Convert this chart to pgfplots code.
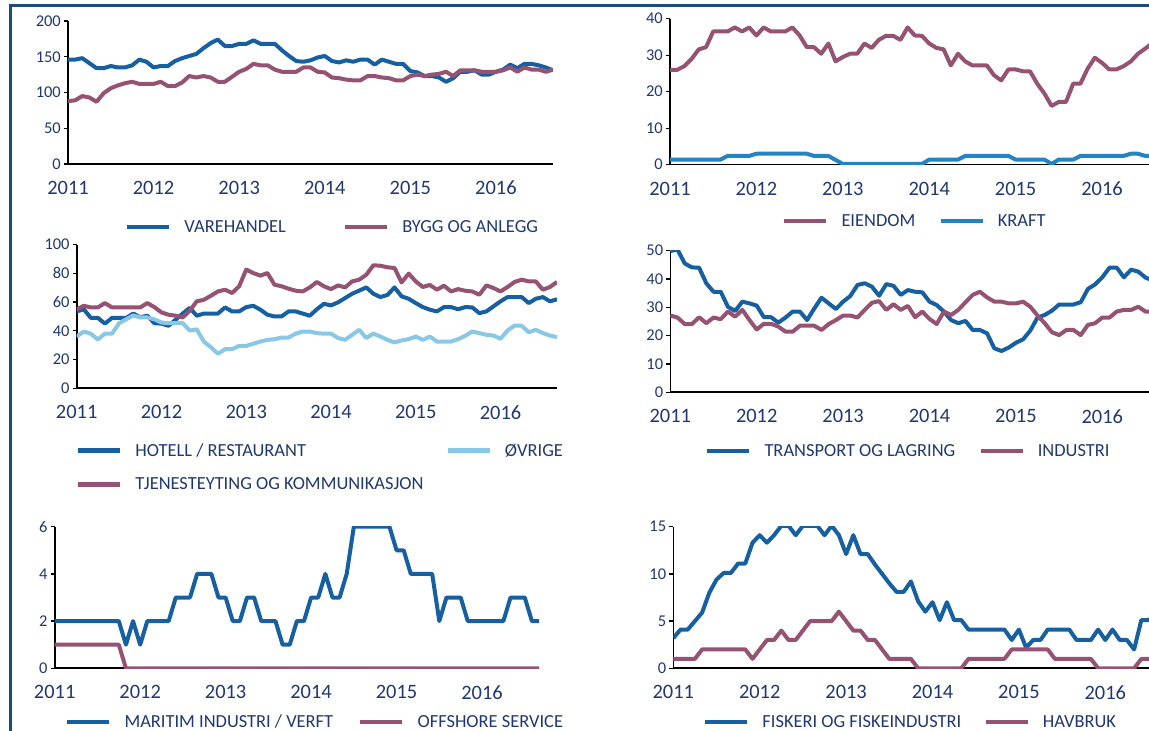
\documentclass[border=0pt]{standalone}
\usepackage{pgfplots}
\pgfplotsset{compat=1.18}
\usepackage{pgfplotstable}
\usepackage{fontspec}
\setmainfont{Carlito}
\definecolor{navy}{RGB}{31,56,116}
\definecolor{cblue}{RGB}{22,96,162}
\definecolor{cmauve}{RGB}{150,82,114}
\definecolor{clight}{RGB}{137,199,230}
\definecolor{ckraft}{RGB}{36,132,195}
\definecolor{frame}{RGB}{28,75,125}

\pgfplotstableread{
m vare bygg
0 146 88
1 146 89
2 148 95
3 141 93
4 134 87
5 134 99
6 137 106
7 135 110
8 135 113
9 138 115
10 146 112
11 143 112
12 135 112
13 137 115
14 137 109
15 144 109
16 148 114
17 151 123
18 154 121
19 162 123
20 169 121
21 174 115
22 165 115
23 165 122
24 168 129
25 168 133
26 173 140
27 168 138
28 168 138
29 168 132
30 159 129
31 151 129
32 144 129
33 143 135
34 145 135
35 149 129
36 151 128
37 144 121
38 142 120
39 145 118
40 143 117
41 146 117
42 146 123
43 139 123
44 146 121
45 143 120
46 140 117
47 140 117
48 130 123
49 128 125
50 123 123
51 123 125
52 121 126
53 115 129
54 120 123
55 129 131
56 129 131
57 131 131
58 125 129
59 125 129
60 129 129
61 132 131
62 139 135
63 134 129
64 140 135
65 140 132
66 138 132
67 135 129
68 131 132
}\tabA

\pgfplotstableread{
m eiendom kraft
0 26.0 1.4
1 26.0 1.4
2 27.0 1.4
3 29.0 1.4
4 31.6 1.4
5 32.2 1.4
6 36.5 1.4
7 36.5 1.4
8 36.5 2.4
9 37.6 2.4
10 36.5 2.4
11 37.6 2.4
12 35.4 3.0
13 37.6 3.0
14 36.5 3.0
15 36.5 3.0
16 36.5 3.0
17 37.6 3.0
18 35.4 3.0
19 32.2 3.0
20 32.2 2.4
21 30.4 2.4
22 33.2 2.4
23 28.3 1.3
24 29.5 0.2
25 30.4 0.2
26 30.4 0.2
27 33.2 0.2
28 32.0 0.2
29 34.2 0.2
30 35.3 0.2
31 35.3 0.2
32 34.2 0.2
33 37.6 0.2
34 35.4 0.2
35 35.3 0.2
36 33.2 1.4
37 32.0 1.4
38 31.6 1.4
39 27.2 1.4
40 30.4 1.4
41 28.3 2.4
42 27.2 2.4
43 27.2 2.4
44 27.2 2.4
45 24.5 2.4
46 23.1 2.4
47 26.1 2.4
48 26.1 1.4
49 25.6 1.4
50 25.6 1.4
51 22.2 1.4
52 19.5 1.4
53 16.1 0.2
54 17.2 1.4
55 17.2 1.4
56 22.2 1.4
57 22.2 2.4
58 26.3 2.4
59 29.3 2.4
60 27.9 2.4
61 26.1 2.4
62 26.1 2.4
63 27.0 2.4
64 28.3 3.0
65 30.4 3.0
66 31.8 2.4
67 33.3 2.4
68 34.0 2.4
}\tabB

\pgfplotstableread{
m hotell ovrige tjen
0 53.5 36 55
1 55 39.5 57.4
2 49 38 56.3
3 49 34 56.3
4 45 38 59.3
5 49 38 56.3
6 49 45.3 56.3
7 49 48 56.3
8 52 50.7 56.3
9 49.5 49.3 56.3
10 50.5 49.3 59.3
11 45.3 48 56.5
12 45 45.8 52.8
13 43.5 45.3 51.2
14 47.7 45.3 50.5
15 52 45.3 49.3
16 56 40.2 54
17 50.5 41 60.5
18 52 32.5 61.6
19 52 28.6 64.4
20 52 24 67.4
21 56.3 27.2 68.6
22 53.5 27.2 66.3
23 53.5 29.5 71
24 56.5 29.5 82.6
25 57.4 31 80.2
26 54.7 32.5 78.4
27 51.2 33.7 80.2
28 50 34.2 72.1
29 50 35.3 71
30 53.5 35.3 69.3
31 53.5 38 67.9
32 52 39.5 67.4
33 50.5 39.5 70.2
34 55 38.4 74
35 58.8 38 71
36 57.7 38 69
37 59.8 35 71.6
38 62.8 33.7 70.2
39 65.8 37.2 74.4
40 68 40.7 75.6
41 70.2 35 79
42 65.8 38 85.6
43 63.5 36 85.3
44 65 33.7 84.2
45 70.2 31.9 83.7
46 64 33.3 73.7
47 62.3 34.2 79.8
48 59.3 36 74.4
49 56.5 33.7 70.5
50 54.7 36 71.9
51 53.5 32.5 68.6
52 56.5 32.5 71.4
53 56.5 32.5 67.4
54 55 34.2 69
55 56.5 36.5 67.9
56 56.3 39.5 67.4
57 52.3 38.4 65.1
58 53.5 37.2 71.6
59 57 36.7 69.8
60 60.5 34.4 67.4
61 63.5 40.2 70.5
62 63.5 43.7 74
63 63.5 43.5 75.6
64 59.3 39 74.4
65 62.3 40.7 74.4
66 63.5 38.4 68.6
67 60.5 36.7 70.5
68 62 35.6 74
}\tabC

\pgfplotstableread{
m transport industri
0 49.9 27.1
1 50.4 26.4
2 45.5 24.1
3 44.1 24.1
4 44 26.5
5 38.5 24.4
6 35.5 26.4
7 35.5 25.8
8 30.2 28.5
9 28.7 26.7
10 32 29.1
11 31.4 25.5
12 30.6 22.2
13 26.5 24.2
14 26.5 24.2
15 24.6 23.2
16 26.4 21.4
17 28.5 21.4
18 28.5 23.5
19 25.5 23.5
20 29.6 23.5
21 33.4 22
22 31.4 24.1
23 29.4 25.5
24 32 27.1
25 34 27.1
26 37.9 26.4
27 38.5 29.1
28 37.3 31.6
29 34.1 32.2
30 38.2 29.1
31 37.6 31.1
32 34.4 29.1
33 36.1 30.5
34 35.5 26.5
35 35.3 28.5
36 32 25.9
37 30.8 24.1
38 28.5 28.5
39 25.5 27.3
40 24.4 29.1
41 25.2 31.8
42 22 34.4
43 22 35.5
44 20.8 33.5
45 15.5 32
46 14.6 32
47 15.8 31.4
48 17.5 31.4
49 18.7 32
50 21.8 30.2
51 26.4 27.1
52 27.3 24.4
53 28.8 21.2
54 31 20.2
55 31 22
56 31 22
57 31.8 20.2
58 36.5 23.8
59 38.1 24.4
60 40.6 26.4
61 44 26.4
62 44 28.5
63 40.6 29.1
64 43.3 29.1
65 42.6 30.2
66 40.5 28.5
67 39.5 28.5
68 39 28.5
}\tabD

\pgfplotstableread{
m maritim offshore
0 2 1
1 2 1
2 2 1
3 2 1
4 2 1
5 2 1
6 2 1
7 2 1
8 2 1
9 2 1
10 1 0
11 2 0
12 1 0
13 2 0
14 2 0
15 2 0
16 2 0
17 3 0
18 3 0
19 3 0
20 4 0
21 4 0
22 4 0
23 3 0
24 3 0
25 2 0
26 2 0
27 3 0
28 3 0
29 2 0
30 2 0
31 2 0
32 1 0
33 1 0
34 2 0
35 2 0
36 3 0
37 3 0
38 4 0
39 3 0
40 3 0
41 4 0
42 6 0
43 6 0
44 6 0
45 6 0
46 6 0
47 6 0
48 5 0
49 5 0
50 4 0
51 4 0
52 4 0
53 4 0
54 2 0
55 3 0
56 3 0
57 3 0
58 2 0
59 2 0
60 2 0
61 2 0
62 2 0
63 2 0
64 3 0
65 3 0
66 3 0
67 2 0
68 2 0
}\tabE

\pgfplotstableread{
m fiskeri havbruk
0 3.2 1
1 4.1 1
2 4.1 1
3 5.0 1
4 5.9 2
5 8.0 2
6 9.4 2
7 10.1 2
8 10.1 2
9 11.1 2
10 11.1 2
11 13.3 1
12 14.1 2
13 13.3 3
14 14.1 3
15 15.1 4
16 15.1 3
17 14.1 3
18 15.1 4
19 15.1 5
20 15.1 5
21 14.1 5
22 15.1 5
23 14.1 6
24 12.1 5
25 14.1 4
26 12.1 4
27 12.1 3
28 11.0 3
29 10.0 2
30 9.0 1
31 8.1 1
32 8.1 1
33 9.2 1
34 7.1 0
35 6.0 0
36 7.0 0
37 5.1 0
38 7.0 0
39 5.1 0
40 5.1 0
41 4.1 1
42 4.1 1
43 4.1 1
44 4.1 1
45 4.1 1
46 4.1 1
47 3.0 2
48 4.1 2
49 2.2 2
50 3.0 2
51 3.0 2
52 4.1 2
53 4.1 1
54 4.1 1
55 4.1 1
56 3.0 1
57 3.0 1
58 3.0 1
59 4.1 0
60 3.0 0
61 4.1 0
62 3.0 0
63 3.0 0
64 2.0 0
65 5.1 1
66 5.1 1
67 5.7 1
68 6.2 1
}\tabF

\pgfplotsset{
  panel/.style={
    scale only axis,
    anchor=south west,
    axis x line*=bottom,
    axis y line*=left,
    axis line style={black, line width=1.6bp},
    xmin=0,
    xtick={0,12,24,36,48,60},
    xticklabels={2011,2012,2013,2014,2015,2016},
    x tick style={draw=none},
    y tick style={black, line width=1.3bp},
    tick align=outside,
    major tick length=4bp,
    /pgf/number format/assume math mode=true,
    xticklabel style={font=\fontsize{20.5}{20.5}\selectfont, text=navy, inner sep=0pt, yshift=-13bp},
    yticklabel style={font=\fontsize{16.5}{16.5}\selectfont, text=navy, inner sep=0pt, xshift=-3bp},
    legend style={draw=none, fill=none, inner sep=0pt, outer sep=0pt,
      font=\fontsize{18.5}{18.5}\selectfont, text=navy, anchor=west,
      nodes={inner xsep=0pt, inner ysep=0pt},
      /tikz/every odd column/.append style={column sep=13bp}},
    legend columns=2,
    legend cell align=left,
    legend image code/.code={\draw[##1, line width=4.5bp] (0bp,0bp) -- (42bp,0bp);},
    every axis plot/.append style={line width=4bp, line join=round, no markers},
  },
}

\begin{document}
\begin{tikzpicture}
\useasboundingbox (0,0) rectangle (1149bp,731bp);
\clip (0,0) rectangle (1149bp,731bp);
\fill[white] (0,0) rectangle (1149bp,731bp);
\draw[frame, line width=3bp] (10.5bp,0bp) -- (10.5bp,725.5bp) -- (1149bp,725.5bp);

% Panel 1
\begin{axis}[panel, at={(68bp,567bp)}, width=485bp, height=143bp,
  xmax=68, ymin=0, ymax=200, ytick={0,50,100,150,200},
  legend style={at={(0.1175,-0.4406)}, /tikz/every even column/.append style={column sep=57bp}}]
\addplot[cblue] table[x=m, y=vare] {\tabA};
\addlegendentry{VAREHANDEL}
\addplot[cmauve] table[x=m, y=bygg] {\tabA};
\addlegendentry{BYGG OG ANLEGG}
\end{axis}

% Panel 2
\begin{axis}[panel, at={(670bp,566.3bp)}, width=478.8bp, height=146bp,
  xmax=66.5, ymin=0, ymax=40, ytick={0,10,20,30,40},
  legend style={at={(0.2339,-0.3856)}, /tikz/every even column/.append style={column sep=23bp}}]
\addplot[cmauve] table[x=m, y=eiendom] {\tabB};
\addlegendentry{EIENDOM}
\addplot[ckraft] table[x=m, y=kraft] {\tabB};
\addlegendentry{KRAFT}
\end{axis}

% Panel 3
\begin{axis}[panel, at={(76.7bp,342.7bp)}, width=480.3bp, height=143.7bp,
  xmax=68, ymin=0, ymax=100, ytick={0,20,40,60,80,100},
  legend style={at={(-0.0015,-0.551)}, row sep=20bp, /tikz/every even column/.append style={column sep=22bp}}]
\addplot[cblue] table[x=m, y=hotell] {\tabC};
\addlegendentry{HOTELL / RESTAURANT}
\addplot[clight] table[x=m, y=ovrige] {\tabC};
\addlegendentry{ØVRIGE}
\addplot[cmauve] table[x=m, y=tjen] {\tabC};
\addlegendentry{TJENESTEYTING OG KOMMUNIKASJON}
\end{axis}

% Panel 4
\begin{axis}[panel, at={(670.3bp,338.7bp)}, width=478.8bp, height=141.6bp,
  xmax=66.5, ymin=0, ymax=50, ytick={0,10,20,30,40,50},
  legend style={at={(0.0725,-0.4145)}, /tikz/every even column/.append style={column sep=23bp}}]
\addplot[cblue] table[x=m, y=transport] {\tabD};
\addlegendentry{TRANSPORT OG LAGRING}
\addplot[cmauve] table[x=m, y=industri] {\tabD};
\addlegendentry{INDUSTRI}
\end{axis}

% Panel 5
\begin{axis}[panel, at={(54.7bp,62.7bp)}, width=484.3bp, height=141.6bp,
  xmax=68, ymin=0, ymax=6, ytick={0,2,4,6},
  legend style={at={(0.0213,-0.379)}, /tikz/every even column/.append style={column sep=25bp}}]
\addplot[cblue] table[x=m, y=maritim] {\tabE};
\addlegendentry{MARITIM INDUSTRI / VERFT}
\addplot[cmauve] table[x=m, y=offshore] {\tabE};
\addlegendentry{OFFSHORE SERVICE}
\end{axis}

% Panel 6
\begin{axis}[panel, at={(673.3bp,62.7bp)}, width=478.8bp, height=141.6bp,
  xmax=66.5, ymin=0, ymax=15, ytick={0,5,10,15},
  legend style={at={(0.062,-0.379)}, /tikz/every even column/.append style={column sep=22bp}}]
\addplot[cblue] table[x=m, y=fiskeri] {\tabF};
\addlegendentry{FISKERI OG FISKEINDUSTRI}
\addplot[cmauve] table[x=m, y=havbruk] {\tabF};
\addlegendentry{HAVBRUK}
\end{axis}
\end{tikzpicture}
\end{document}
